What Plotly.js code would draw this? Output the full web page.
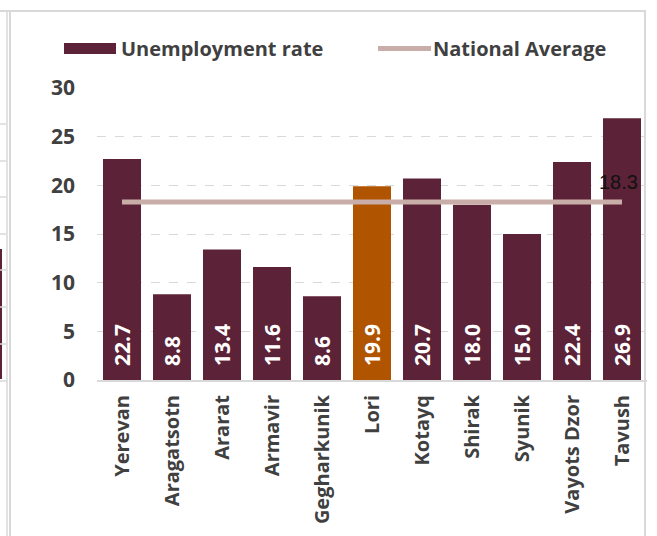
<!DOCTYPE html>
<html>
<head>
<meta charset="utf-8">
<script src="https://cdn.plot.ly/plotly-3.0.1.min.js"></script>
<style>html,body{margin:0;padding:0;background:#fff;}#chart{width:657px;height:536px;}</style>
</head>
<body>
<div id="chart"></div>
<script>
const regions = ["Yerevan","Aragatsotn","Ararat","Armavir","Gegharkunik","Lori","Kotayq","Shirak","Syunik","Vayots Dzor","Tavush"];
const unemployment = [22.7, 8.8, 13.4, 11.6, 8.6, 19.9, 20.7, 18.0, 15.0, 22.4, 26.9];
const nationalAverage = [18.3, 18.3, 18.3, 18.3, 18.3, 18.3, 18.3, 18.3, 18.3, 18.3, 18.3];
const highlightRegion = "Lori";
const yTicks = [0, 5, 10, 15, 20, 25, 30];

const barColor = '#5C2238';
const hiColor = '#B05400';
const avgColor = '#C9ADA8';
const frameColor = '#D9D9D9';
const txt = '#404040';

const M = {l: 97, r: 10, t: 88, b: 156};
const W = 657 - M.l - M.r, H = 536 - M.t - M.b;
const px = x => (x - M.l) / W;
const py = y => (536 - M.b - y) / H;

const barTrace = {
  type: 'bar', x: regions, y: unemployment, name: 'Unemployment rate',
  marker: {color: regions.map(r => r === highlightRegion ? hiColor : barColor)},
  text: unemployment.map(v => '\u00a0\u00a0' + v.toFixed(1)),
  textposition: 'inside', insidetextanchor: 'start', textangle: -90,
  textfont: {family: 'Open Sans', size: 21, color: '#ffffff', weight: 'bold'},
  insidetextfont: {family: 'Open Sans', size: 21, color: '#ffffff', weight: 'bold'},
  constraintext: 'none',
  cliponaxis: false, showlegend: false
};
const avgTrace = {
  type: 'scatter', mode: 'lines', x: regions, y: nationalAverage, name: 'National Average',
  line: {color: avgColor, width: 5},
  showlegend: false, cliponaxis: false
};

const last = regions.length - 1;
const shapes = [
  // neighbouring chart fragment on the far left
  {type: 'rect', xref: 'paper', yref: 'paper', x0: px(0), x1: px(2), y0: py(379), y1: py(249), fillcolor: barColor, line: {width: 0}},
  {type: 'line', xref: 'paper', yref: 'paper', x0: px(0), x1: px(7), y0: py(381), y1: py(381), line: {color: frameColor, width: 1.5}},
  {type: 'line', xref: 'paper', yref: 'paper', x0: px(7), x1: px(7), y0: py(545), y1: py(11), line: {color: frameColor, width: 1.5}},
  // chart frame
  {type: 'line', xref: 'paper', yref: 'paper', x0: px(0), x1: px(646), y0: py(11), y1: py(11), line: {color: frameColor, width: 2}},
  {type: 'line', xref: 'paper', yref: 'paper', x0: px(10), x1: px(10), y0: py(545), y1: py(11), line: {color: frameColor, width: 2}},
  {type: 'line', xref: 'paper', yref: 'paper', x0: px(645), x1: px(645), y0: py(545), y1: py(11), line: {color: frameColor, width: 2}},
  // legend symbols
  {type: 'rect', xref: 'paper', yref: 'paper', x0: px(64), x1: px(116), y0: py(54), y1: py(43), fillcolor: barColor, line: {width: 0}},
  {type: 'line', xref: 'paper', yref: 'paper', x0: px(378), x1: px(431), y0: py(48.5), y1: py(48.5), line: {color: avgColor, width: 5}}
];
[124, 161, 197, 234, 270, 307, 344].forEach(y => shapes.push(
  {type: 'line', xref: 'paper', yref: 'paper', x0: px(0), x1: px(6), y0: py(y), y1: py(y), line: {color: frameColor, width: 1.5}}));

const layout = {
  width: 657, height: 536,
  margin: M,
  paper_bgcolor: '#ffffff', plot_bgcolor: '#ffffff',
  bargap: 0.24,
  showlegend: false,
  xaxis: {
    type: 'category', tickangle: -90, showgrid: false,
    showline: true, linecolor: frameColor, linewidth: 2,
    ticks: '', ticklabelstandoff: 5,
    tickfont: {family: 'Open Sans', size: 20, color: txt, weight: 'bold'}
  },
  yaxis: {
    range: [0, 30], tickvals: yTicks, ticktext: yTicks.map(String),
    showgrid: true, gridcolor: frameColor, griddash: 'dash', gridwidth: 1,
    zeroline: false, showline: false, ticks: '', ticklabelstandoff: 21,
    tickfont: {family: 'Open Sans', size: 21, color: txt, weight: 'bold'}
  },
  shapes: shapes,
  annotations: [
    {xref: 'paper', yref: 'paper', x: px(119), y: py(48.5), xanchor: 'left', yanchor: 'middle', showarrow: false,
     text: 'Unemployment rate', font: {family: 'Open Sans', size: 20, color: txt, weight: 'bold'}},
    {xref: 'paper', yref: 'paper', x: px(431), y: py(48.5), xanchor: 'left', yanchor: 'middle', showarrow: false,
     text: 'National Average', font: {family: 'Open Sans', size: 20, color: txt, weight: 'bold'}},
    {xref: 'x', yref: 'y', x: regions[last], y: nationalAverage[last], xshift: -4, yshift: 20,
     xanchor: 'center', yanchor: 'middle', showarrow: false,
     text: nationalAverage[last].toFixed(1), font: {family: 'Liberation Sans', size: 20, color: '#111111'}}
  ]
};

Plotly.newPlot('chart', [barTrace, avgTrace], layout, {displayModeBar: false, staticPlot: true});
</script>
</body>
</html>
